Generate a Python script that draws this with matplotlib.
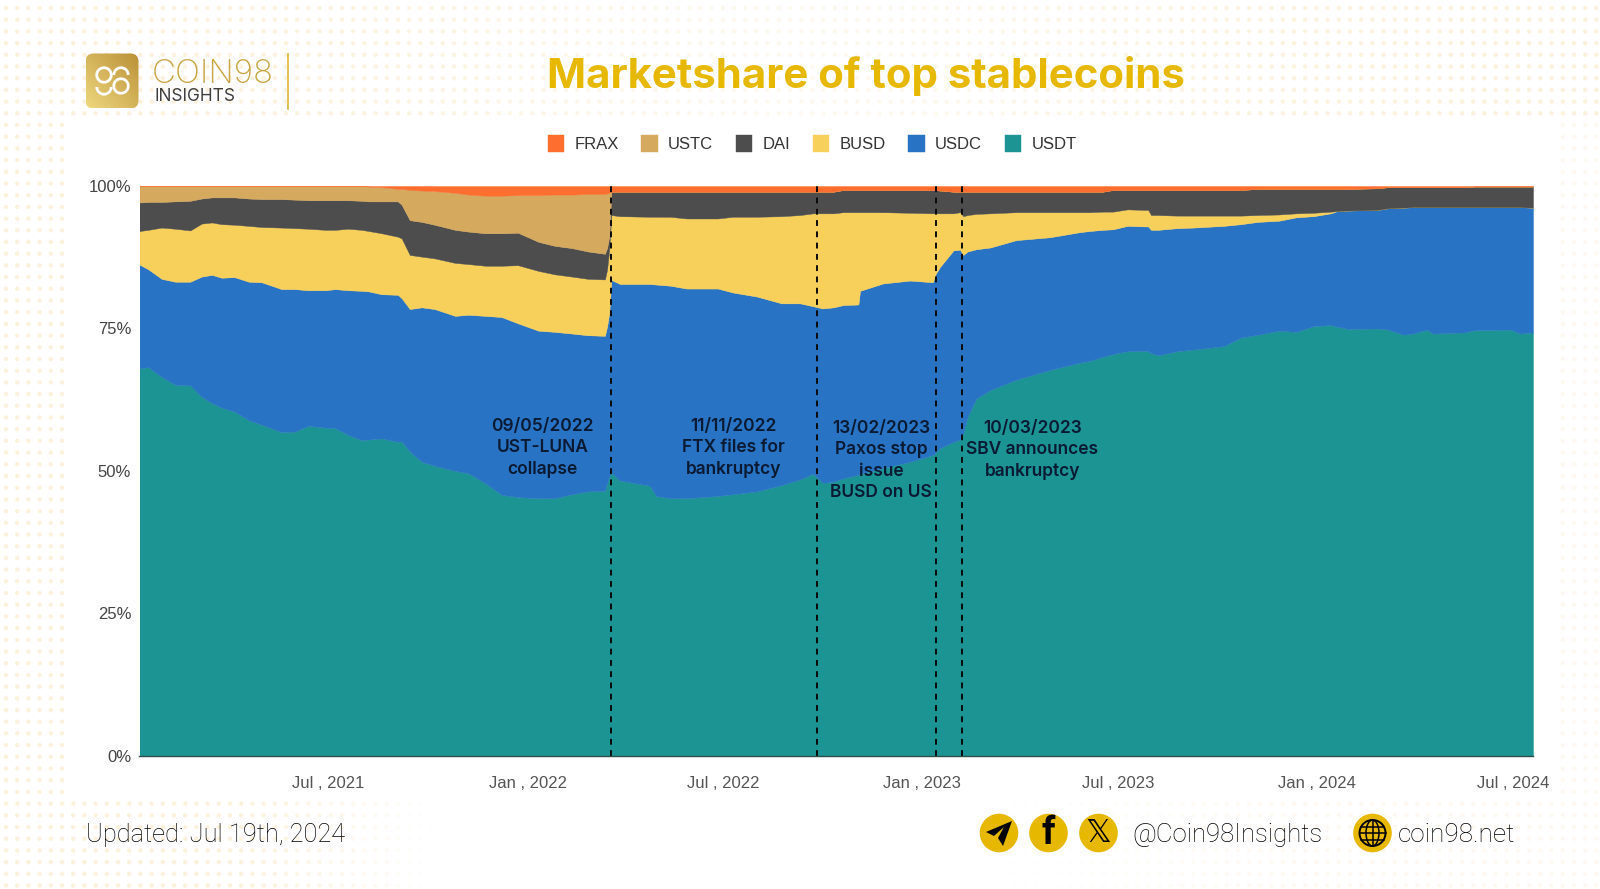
import numpy as np
import matplotlib
matplotlib.use("Agg")
import matplotlib.pyplot as plt
from matplotlib.patches import Circle, FancyBboxPatch, Arc, Polygon, Ellipse

start_date = np.datetime64('2021-01-07')
days = [0, 8, 20.5, 33, 47, 57.5, 67, 76, 88, 101, 113, 131.5, 144, 156, 172, 181, 193, 205.5, 212, 224, 239, 242.5,
        250, 261, 273, 292, 304, 320, 335, 350, 369, 384, 400, 415, 430.5, 432.5, 434.5,
        436.5, 444.5, 472, 478, 491, 506, 535, 549, 571, 594, 611, 623, 632, 642, 651, 665, 666.5, 688, 713, 734, 736,
        740.5, 753, 759, 762, 766, 774, 787, 811, 842, 870, 879, 891, 900.5, 914, 930, 933, 935.7, 942, 960, 974.5,
        1003, 1019, 1034.5, 1054, 1070, 1086, 1102, 1108, 1118, 1145, 1155, 1169, 1178, 1191, 1196, 1226, 1235, 1268, 1277, 1289]
# cumulative tops of each stacked band, in percent
usdt_top = [68.0, 68.2, 66.5, 65.1, 65.0, 63.0, 61.9, 61.1, 60.4, 58.9, 58.1, 56.8, 56.9, 57.9, 57.6, 57.5, 56.3, 55.4, 55.5, 55.7, 55.1, 55.2,
            53.4, 51.6, 50.9, 50.0, 49.6, 47.8, 45.8, 45.4, 45.2, 45.2, 45.9, 46.4, 46.5, 47.8, 49.0,
            49.7, 48.3, 47.4, 45.6, 45.2, 45.2, 45.6, 45.9, 46.4, 47.5, 48.5, 49.5, 47.9, 48.1, 48.7, 49.3, 49.5, 50.5, 51.6, 52.8, 53.1,
            54.0, 55.1, 55.5, 56.6, 59.5, 62.7, 64.2, 66.0, 67.7, 69.0, 69.3, 70.0, 70.5, 71.0, 71.1, 71.0, 70.7, 70.3, 71.0, 71.3,
            71.9, 73.4, 73.9, 74.6, 74.4, 75.4, 75.6, 75.3, 74.9, 75.0, 74.8, 73.9, 74.1, 74.8, 74.1, 74.3, 74.7, 74.8, 74.1, 74.3]
usdc_top = [86.2, 85.4, 83.7, 83.2, 83.2, 84.1, 84.4, 83.9, 84.0, 83.2, 83.1, 81.9, 81.9, 81.7, 81.7, 81.9, 81.7, 81.6, 81.5, 81.0, 80.9, 80.3,
            78.4, 78.7, 78.4, 77.2, 77.4, 77.2, 77.0, 75.9, 74.6, 74.4, 74.1, 73.8, 73.7, 75.3, 77.7,
            83.5, 82.8, 82.8, 82.7, 82.5, 82.0, 82.0, 81.3, 80.6, 79.4, 79.4, 78.9, 78.5, 78.7, 79.1, 79.2, 81.6, 82.9, 83.4, 83.1, 84.4,
            85.8, 88.7, 88.8, 87.9, 88.5, 88.9, 89.2, 90.5, 91.0, 91.9, 92.1, 92.3, 92.4, 93.0, 92.9, 92.9, 92.3, 92.3, 92.6, 92.7,
            93.0, 93.3, 93.7, 93.9, 94.5, 94.7, 95.2, 95.6, 95.7, 95.8, 96.1, 96.2, 96.3, 96.3, 96.3, 96.3, 96.3, 96.3, 96.3, 96.2]
busd_top = [92.1, 92.3, 92.7, 92.5, 92.2, 93.4, 93.6, 93.3, 93.2, 93.0, 92.8, 92.7, 92.6, 92.5, 92.3, 92.3, 92.5, 92.3, 92.1, 91.7, 91.1, 90.8,
            87.9, 87.6, 87.3, 86.5, 86.3, 86.0, 86.0, 86.1, 85.1, 84.5, 84.1, 83.7, 83.6, 85.3, 88.8,
            94.9, 94.7, 94.6, 94.6, 94.6, 94.3, 94.3, 94.6, 94.6, 94.7, 94.9, 95.2, 95.2, 95.2, 95.4, 95.4, 95.4, 95.4, 95.3, 95.2, 95.2,
            95.2, 95.2, 95.4, 94.7, 94.9, 95.1, 95.2, 95.4, 95.4, 95.4, 95.4, 95.5, 95.5, 95.9, 95.8, 95.8, 94.9, 94.9, 94.8, 94.8,
            94.8, 94.8, 94.9, 95.0, 95.2, 95.3, 95.5, 95.6, 95.7, 95.8, 96.1, 96.2, 96.3, 96.3, 96.3, 96.3, 96.3, 96.3, 96.3, 96.2]
dai_top = [97.1, 97.2, 97.2, 97.3, 97.4, 97.8, 98.0, 98.0, 98.0, 97.8, 97.7, 97.7, 97.6, 97.5, 97.5, 97.5, 97.5, 97.4, 97.3, 97.3, 97.3, 96.7,
           94.0, 93.7, 93.2, 92.3, 92.0, 91.7, 91.7, 91.8, 90.2, 89.5, 89.1, 88.5, 88.1, 89.1, 91.1,
           99.0, 99.0, 99.0, 99.0, 99.0, 99.0, 99.0, 99.0, 99.0, 99.0, 99.0, 99.0, 99.0, 99.0, 99.3, 99.3, 99.3, 99.3, 99.3, 99.3, 99.3,
           99.2, 99.0, 99.0, 99.0, 99.0, 99.0, 99.0, 99.0, 99.0, 99.0, 99.0, 99.0, 99.3, 99.3, 99.3, 99.3, 99.3, 99.3, 99.3, 99.3,
           99.3, 99.3, 99.5, 99.5, 99.5, 99.5, 99.5, 99.5, 99.5, 99.6, 99.8, 99.8, 99.8, 99.8, 99.8, 99.8, 99.9, 99.9, 99.9, 99.9]
ustc_top = [100, 100, 100, 100, 100, 100, 100, 100, 100, 100, 100, 100, 100, 100, 100, 100, 100, 100, 99.9, 99.8, 99.5, 99.5,
            99.3, 99.2, 99.1, 98.8, 98.5, 98.3, 98.3, 98.4, 98.4, 98.5, 98.5, 98.6, 98.6, 98.7, 98.8,
            99.0, 99.0, 99.0, 99.0, 99.0, 99.0, 99.0, 99.0, 99.0, 99.0, 99.0, 99.0, 99.0, 99.0, 99.3, 99.3, 99.3, 99.3, 99.3, 99.3, 99.3,
            99.2, 99.0, 99.0, 99.0, 99.0, 99.0, 99.0, 99.0, 99.0, 99.0, 99.0, 99.0, 99.3, 99.3, 99.3, 99.3, 99.3, 99.3, 99.3, 99.3,
            99.3, 99.3, 99.5, 99.5, 99.5, 99.5, 99.5, 99.5, 99.5, 99.6, 99.8, 99.8, 99.8, 99.8, 99.8, 99.8, 99.9, 99.9, 99.9, 99.9]
frax_top = [100.0] * len(days)

series_names = ['USDT', 'USDC', 'BUSD', 'DAI', 'USTC', 'FRAX']
series_colors = ['#1C9494', '#2873C3', '#F7D05C', '#4D4D4D', '#D5A95E', '#FE6E2F']

tick_dates = ['2021-07-01', '2022-01-01', '2022-07-01', '2023-01-01', '2023-07-01', '2024-01-01', '2024-07-01']
tick_labels = ['Jul , 2021', 'Jan , 2022', 'Jul , 2022', 'Jan , 2023', 'Jul , 2023', 'Jan , 2024', 'Jul , 2024']
y_ticks = [0, 25, 50, 75, 100]
y_labels = ['0%', '25%', '50%', '75%', '100%']

event_days = [436, 626.7, 736.7, 760.7]
event_texts = ['09/05/2022\nUST-LUNA\ncollapse', '11/11/2022\nFTX files for\nbankruptcy',
               '13/02/2023\nPaxos stop\nissue\nBUSD on US', '10/03/2023\nSBV announces\nbankruptcy']
event_label_days = [373, 549.5, 686, 826]
event_label_tops = [59.3, 59.3, 59.0, 59.0]

W, H = 1600, 889
fig = plt.figure(figsize=(16, 8.89), dpi=100, facecolor='white')
plt.rcParams['font.family'] = ['Roboto', 'DejaVu Sans']

# page layer in pixel coordinates
bg = fig.add_axes([0, 0, 1, 1], zorder=0)
bg.set_xlim(0, W); bg.set_ylim(H, 0); bg.axis('off')

gx, gy = np.meshgrid(np.arange(6, W, 11.2), np.arange(8, H, 11.7))
gx, gy = gx.ravel(), gy.ravel()
a = np.zeros_like(gx)
a = np.maximum(a, np.where(gy < 122, 0.85 - 0.45 * np.exp(-((gx - 800) / 350) ** 2), 0))
a = np.maximum(a, np.where(gx < 72, 0.85, 0))
a = np.maximum(a, np.where((gy > 795) & (gx < 440), 0.85 * np.clip((440 - gx) / 200, 0, 1), 0))
a = np.maximum(a, np.where((gy > 800) & (gx > 1000), 0.35 * np.clip((gx - 1000) / 300, 0, 1), 0))
a = np.maximum(a, np.where(gx > 1560, 0.35, 0))
colors = np.zeros((len(gx), 4)); colors[:, :3] = matplotlib.colors.to_rgb('#FCF0D6'); colors[:, 3] = a
bg.scatter(gx, gy, s=10, c=colors, linewidths=0)

gold = '#E6B800'
bg.text(866, 88, 'Marketshare of top stablecoins', color=gold, fontsize=30.2, family='Inter', fontweight='bold', ha='center', va='baseline')

# logo
box = FancyBboxPatch((92, 60), 40, 42, boxstyle='round,pad=6.5,rounding_size=8', fc='none', ec='none')
bg.add_patch(box)
grad = np.linspace(0, 1, 64)
gg = np.add.outer(grad, 1 - grad) / 2
cmap = matplotlib.colors.LinearSegmentedColormap.from_list('g', ['#B98F35', '#EED77E'])
im = bg.imshow(gg, extent=(85.5, 139, 108.5, 53), cmap=cmap, origin='upper', aspect='auto', zorder=1)
im.set_clip_path(box)
bg.set_xlim(0, W); bg.set_ylim(H, 0)
for cx, cy, th1, th2 in [(104, 75, 0, 360), (104, 87, 0, 180), (121, 86, 0, 360), (121, 75, 180, 360)]:
    bg.add_patch(Arc((cx, cy), 14.5, 14.5, theta1=th1, theta2=th2, color='white', lw=2, zorder=2))
bg.text(152, 83, 'COIN98', color='#C9A544', fontsize=23.8, family='Inter', fontweight='light', ha='left', va='baseline')
bg.text(154.5, 101, 'INSIGHTS', color='#3F3F3F', fontsize=12.4, family='Inter', ha='left', va='baseline')
bg.plot([287.5, 287.5], [53.5, 108.5], color='#E3BE45', lw=1.3)

# footer
bg.text(86, 835, 'Updated: Jul 19th, 2024', color='black', fontsize=18.3, fontweight='light', ha='left', va='center')
bg.text(1132, 835, '@Coin98Insights', color='black', fontsize=18.5, fontweight='light', ha='left', va='center')
bg.text(1398, 835, 'coin98.net', color='black', fontsize=18.8, fontweight='light', ha='left', va='center')
for cx in [999, 1048.5, 1098.5, 1372.5]:
    bg.add_patch(Circle((cx, 833), 19.3, fc=gold, ec='none'))
bg.add_patch(Polygon([(986, 832), (1012, 821), (1003, 846), (998, 838), (1004, 827), (994, 836)], fc='black', ec='none'))
bg.text(1048.5, 834, 'f', color='black', fontsize=27, fontweight='bold', ha='center', va='center')
bg.text(1098.5, 833, '\U0001D54F', color='black', fontsize=23, family='DejaVu Sans', ha='center', va='center')
gc = (1372.5, 833)
bg.add_patch(Circle(gc, 13, fc='none', ec='black', lw=1.4))
bg.add_patch(Ellipse(gc, 13, 26, fc='none', ec='black', lw=1.1))
bg.plot([gc[0], gc[0]], [820, 846], color='black', lw=1.1)
for dy, hw in [(0, 13), (-6.5, 11.2), (6.5, 11.2)]:
    bg.plot([gc[0] - hw, gc[0] + hw], [833 + dy, 833 + dy], color='black', lw=1.1)

# chart
ax = fig.add_axes([139.5 / W, 1 - 755.7 / H, 1393.5 / W, 569.7 / H], zorder=2)
ax.patch.set_alpha(0)
x = start_date + np.round(np.array(days) * 24).astype('timedelta64[h]')
tops = np.vstack([usdt_top, usdc_top, busd_top, dai_top, ustc_top, frax_top])
shares = np.diff(np.vstack([np.zeros(len(days)), tops]), axis=0)
polys = ax.stackplot(x, shares, colors=series_colors, labels=series_names, linewidth=0.3, edgecolor='face')

end_date = start_date + np.timedelta64(1289, 'D')
ax.set_xlim(start_date, end_date)
ax.set_ylim(0, 100)
ax.set_xticks(np.array(tick_dates, dtype='datetime64[D]'))
ax.set_xticklabels(tick_labels, color='#555555', fontsize=12, family='Liberation Sans')
ax.set_yticks(y_ticks)
ax.set_yticklabels(y_labels, color='#444444', fontsize=12, family='Liberation Sans')
ax.tick_params(axis='both', length=0)
ax.tick_params(axis='x', pad=14.5)
ax.tick_params(axis='y', pad=6)
for s in ['top', 'right', 'left']:
    ax.spines[s].set_visible(False)
ax.spines['bottom'].set_color('#2F4F4F'); ax.spines['bottom'].set_linewidth(1)

for d in event_days:
    ax.axvline(start_date + np.timedelta64(int(round(d * 24)), 'h'), color='#0A0A0A', lw=1.4, linestyle=(0, (3.0, 2.8)))
for d, t, s in zip(event_label_days, event_label_tops, event_texts):
    ax.text(start_date + np.timedelta64(int(round(d * 24)), 'h'), t, s, color='#0B1A33', fontsize=12.5,
            family='Inter', ha='center', va='top', linespacing=1.35, fontweight='semibold')

handles, labels = ax.get_legend_handles_labels()
leg = fig.legend(handles[::-1], labels[::-1], ncol=6, loc='center', bbox_to_anchor=(812 / W, 1 - 143.7 / H),
                 frameon=False, prop={'family': 'Liberation Sans', 'size': 12},
                 handlelength=0.98, handleheight=1.15, handletextpad=0.62, columnspacing=1.36,
                 labelcolor='#333333')

fig.savefig('out.png', dpi=100, facecolor='white')
